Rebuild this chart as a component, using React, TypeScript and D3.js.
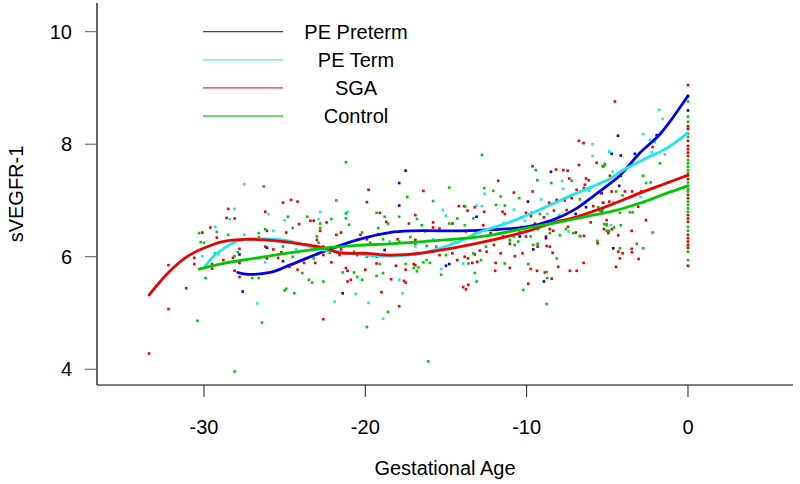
import * as d3 from 'd3'

type Pt = [number, number]

const groups = ['PE Preterm', 'PE Term', 'SGA', 'Control']
const groupColors = ['#0000ee', '#1ee6f0', '#ee0000', '#00c800']
const xTicks = [-30, -20, -10, 0]
const yTicks = [4, 6, 8, 10]

// scatter (gestational age, sVEGFR-1)
const pretermPts: Pt[] = [
  [-26.1, 6.16], [-27.8, 6.04], [-25.1, 5.92], [-27.6, 5.38],
  [-17.5, 7.53], [-17.9, 7.31], [-17.9, 6.91], [-18.8, 6.12], [-15.0, 5.84], [-14.8, 5.87], [-21.4, 5.35],
  [-8.49, 7.51], [-9.92, 6.98], [-13.1, 6.71], [-6.96, 6.76], [-6.32, 6.88], [-5.35, 7.13], [-8.8, 6.33],
  [-10.42, 6.36], [-9.59, 6.13], [-8.93, 5.56],
  [-4.34, 8.15], [-1.94, 8.16], [-4.73, 7.83], [-4.17, 7.8], [-3.29, 7.83], [-4.17, 7.44], [-4.26, 7.26], [-4.63, 6.15],
  [0, 8.6]
]
const termPts: Pt[] = [
  [-27.5, 7.29], [-28.1, 6.85], [-26.0, 6.76], [-28.4, 6.67], [-25.0, 6.65], [-29.3, 6.53], [-27.5, 6.39],
  [-25.7, 6.46], [-30.1, 6.01], [-29.1, 6.04], [-26.2, 5.9], [-26.7, 5.17],
  [-22.8, 6.8], [-21.1, 6.8], [-15.2, 6.83], [-15.0, 6.73], [-22.9, 6.67], [-18.5, 6.27], [-16.9, 6.18],
  [-15.8, 6.31], [-24.3, 6.13], [-17.9, 5.59], [-15.3, 5.78], [-20.6, 5.34], [-17.7, 5.35], [-21.9, 5.2],
  [-19.8, 5.18], [-18.9, 4.9],
  [-5.91, 8.0], [-4.88, 7.87], [-5.91, 7.79], [-7.81, 7.35], [-12.6, 7.12], [-7.73, 7.21], [-6.12, 7.17],
  [-9.09, 7.02], [-13.1, 6.91], [-12.77, 6.9], [-10.79, 6.84], [-10.31, 6.7], [-8.72, 6.76], [-7.98, 6.74],
  [-10.11, 6.64], [-7.4, 6.45], [-6.65, 6.36], [-11.04, 6.27], [-13.93, 5.88],
  [-1.78, 8.61], [-1.57, 8.45], [-2.77, 8.18], [-2.36, 8.08], [-2.05, 8.04], [-2.25, 7.86], [-1.44, 7.82],
  [-3.08, 7.81], [-4.88, 7.86], [-4.67, 7.51], [-5.29, 6.96], [-2.93, 7.06], [-4.79, 6.56]
]
const sgaPts: Pt[] = [
  [-25.1, 6.96], [-28.5, 6.85], [-26.2, 6.8], [-28.6, 6.69], [-28.1, 6.68], [-29.6, 6.52], [-30.1, 6.43],
  [-26.1, 6.46], [-24.9, 6.43], [-29.2, 6.34], [-26.2, 6.18], [-25.7, 6.13], [-27.8, 6.14], [-30.6, 5.98],
  [-28.8, 5.94], [-28.2, 5.98], [-27.8, 5.89], [-26.1, 5.97], [-25.4, 5.98], [-25.2, 6.08], [-30.6, 5.87],
  [-29.5, 5.87], [-29.5, 5.79], [-28.1, 5.75], [-27.8, 5.64], [-32.2, 5.85], [-31.1, 5.44], [-32.2, 5.07],
  [-33.4, 4.28],
  [-19.8, 7.19], [-16.4, 7.17], [-24.6, 7.01], [-24.2, 6.98], [-19.9, 6.97], [-14.2, 6.9], [-19.1, 6.78],
  [-23.4, 6.64], [-23.2, 6.64], [-16.9, 6.74], [-24.1, 6.58], [-22.4, 6.61], [-18.7, 6.62], [-17.3, 6.59],
  [-15.8, 6.61], [-14.6, 6.59], [-22.8, 6.46], [-15.8, 6.52], [-15.4, 6.5], [-21.5, 6.43], [-21.8, 6.39],
  [-23.0, 6.3], [-20.3, 6.39], [-19.2, 6.4], [-19.9, 6.31], [-18.0, 6.31], [-16.9, 6.3], [-14.4, 6.25],
  [-23.4, 6.18], [-22.6, 6.18], [-21.5, 6.13], [-22.6, 6.03], [-23.8, 5.89], [-23.1, 5.89], [-22.1, 5.9],
  [-21.6, 6.03], [-20.5, 6.03], [-19.3, 5.88], [-18.1, 5.84], [-17.0, 5.87], [-16.9, 5.85], [-15.4, 6.03],
  [-14.6, 6.06], [-14.3, 5.94], [-24.7, 5.82], [-24.2, 5.77], [-21.2, 5.8], [-21.1, 5.75], [-20.0, 5.77],
  [-18.4, 5.6], [-17.6, 5.57], [-17.5, 5.54], [-17.5, 5.77], [-21.1, 5.56], [-20.9, 5.59], [-19.0, 5.37],
  [-17.9, 5.12], [-22.6, 4.89],
  [-6.76, 8.06], [-6.47, 8.02], [-9.63, 7.61], [-8.18, 7.55], [-7.73, 7.54], [-7.46, 7.53], [-6.76, 7.63],
  [-5.66, 7.67], [-11.76, 7.35], [-7.36, 7.39], [-6.32, 7.39], [-6.16, 7.36], [-6.39, 7.28], [-10.79, 7.14],
  [-9.63, 7.16], [-6.9, 7.19], [-6.45, 7.22], [-5.39, 7.13], [-8.6, 6.96], [-8.14, 7.01], [-7.64, 7.0],
  [-7.21, 7.04], [-13.87, 6.9], [-13.21, 6.88], [-13.66, 6.82], [-12.63, 6.8], [-11.49, 6.8], [-11.35, 6.76],
  [-10.04, 6.78], [-9.73, 6.72], [-9.69, 6.78], [-8.93, 6.7], [-8.31, 6.82], [-7.52, 6.83], [-5.87, 6.9],
  [-5.25, 6.96], [-6.03, 6.61], [-5.04, 6.65], [-13.76, 6.45], [-12.69, 6.56], [-9.49, 6.59], [-8.97, 6.58],
  [-8.56, 6.49], [-8.35, 6.46], [-6.96, 6.43], [-7.44, 6.53], [-6.45, 6.37], [-8.8, 6.36], [-10.04, 6.36],
  [-10.42, 6.43], [-11.45, 6.36], [-12.23, 6.42], [-13.14, 6.43], [-5.6, 6.24], [-11.04, 6.23], [-12.03, 6.21],
  [-12.9, 6.11], [-13.84, 6.0], [-13.64, 5.97], [-13.21, 6.04], [-9.32, 6.18], [-8.76, 6.19], [-8.56, 6.18],
  [-8.39, 6.07], [-10.25, 6.06], [-10.73, 6.01], [-11.61, 6.06], [-12.48, 6.09], [-13.06, 5.91], [-13.37, 5.89],
  [-11.92, 5.89], [-9.75, 5.78], [-9.36, 5.75], [-8.87, 5.72], [-11.04, 5.8], [-11.95, 5.75], [-8.04, 5.82],
  [-7.32, 5.75], [-6.9, 5.75], [-6.47, 5.89], [-13.62, 5.5], [-13.93, 5.46], [-13.76, 5.42], [-9.9, 5.52],
  [-8.45, 5.61],
  [-4.53, 8.76], [-2.19, 7.95], [-4.84, 7.44], [-4.73, 7.16], [-3.91, 7.16], [-3.47, 7.16], [-2.9, 7.16],
  [-4.88, 6.98], [-3.08, 6.89], [-5.35, 6.8], [-2.6, 6.65], [-5.21, 6.49], [-4.71, 6.49], [-4.94, 6.42],
  [-4.32, 6.38], [-3.49, 6.46], [-4.32, 6.09], [-4.05, 6.06], [-3.49, 6.14], [-3.47, 6.08], [-4.22, 5.97],
  [-3.06, 5.96], [-4.46, 5.82],
  [0, 9.05], [0, 8.32], [0, 8.27], [0, 8.19], [0, 8.06], [0, 7.97], [0, 7.91], [0, 7.85], [0, 7.79],
  [0, 7.38], [0, 7.1], [0, 7.04], [0, 6.74], [0, 6.68], [0, 6.62], [0, 6.39], [0, 6.33], [0, 6.27],
  [0, 6.21], [0, 6.16], [0, 5.84]
]
const controlPts: Pt[] = [
  [-26.3, 7.25], [-24.8, 6.71], [-30.3, 6.42], [-29.2, 6.44], [-28.5, 6.39], [-26.6, 6.42], [-26.2, 6.49],
  [-26.6, 6.35], [-30.2, 6.26], [-30.0, 6.25], [-25.1, 6.18], [-29.3, 6.06], [-28.1, 6.01], [-27.9, 6.08],
  [-29.9, 5.62], [-27.0, 5.62], [-26.6, 5.62], [-25.0, 5.4], [-24.9, 5.43], [-30.4, 4.86], [-26.4, 4.83],
  [-28.1, 3.96],
  [-21.2, 7.68], [-14.8, 7.23], [-17.4, 7.06], [-21.8, 7.0], [-15.8, 6.99], [-21.2, 6.77], [-19.3, 6.78],
  [-18.8, 6.71], [-23.6, 6.71], [-22.1, 6.67], [-21.2, 6.68], [-17.9, 6.71], [-16.8, 6.67], [-14.3, 6.68],
  [-22.8, 6.59], [-21.0, 6.57], [-18.6, 6.59], [-16.5, 6.56], [-14.8, 6.59], [-22.8, 6.51], [-19.2, 6.51],
  [-16.3, 6.45], [-24.5, 6.51], [-23.0, 6.36], [-22.9, 6.25], [-20.2, 6.43], [-19.7, 6.25], [-18.9, 6.31],
  [-17.9, 6.27], [-17.2, 6.35], [-16.9, 6.23], [-16.2, 6.19], [-15.6, 6.18], [-24.5, 6.0], [-22.2, 6.07],
  [-23.2, 5.97], [-20.7, 6.09], [-19.9, 6.0], [-19.3, 6.0], [-19.1, 5.87], [-17.5, 5.87], [-16.7, 5.81],
  [-16.4, 5.9], [-16.2, 5.94], [-16.0, 5.89], [-15.0, 6.03], [-23.9, 5.71], [-21.4, 5.72], [-20.7, 5.72],
  [-19.3, 5.66], [-18.9, 5.71], [-17.0, 5.8], [-16.8, 5.74], [-15.3, 5.68], [-23.5, 5.59], [-23.3, 5.54],
  [-22.6, 5.56], [-20.5, 5.64], [-20.2, 5.59], [-24.4, 5.35], [-18.6, 5.02], [-19.9, 4.75], [-16.1, 4.14],
  [-12.77, 7.81], [-9.44, 7.54], [-5.25, 7.6], [-5.15, 7.63], [-9.34, 7.36], [-8.47, 7.31], [-7.21, 7.35],
  [-12.63, 7.22], [-12.07, 7.17], [-11.61, 7.07], [-10.46, 7.04], [-6.7, 7.02], [-11.9, 6.92], [-11.35, 6.91],
  [-13.81, 6.89], [-13.31, 6.68], [-9.18, 6.76], [-5.56, 6.88], [-5.46, 6.82], [-5.04, 6.58], [-4.88, 6.46],
  [-13.83, 6.56], [-11.41, 6.59], [-10.31, 6.53], [-9.3, 6.49], [-7.56, 6.49], [-7.11, 6.42], [-6.7, 6.37],
  [-7.94, 6.38], [-8.56, 6.42], [-9.75, 6.36], [-10.79, 6.36], [-11.04, 6.3], [-5.62, 6.28], [-10.52, 6.27],
  [-10.74, 6.21], [-12.52, 6.18], [-13.31, 6.06], [-9.59, 6.21], [-9.32, 6.23], [-8.14, 5.97], [-12.83, 5.94],
  [-13.6, 5.88], [-11.35, 5.88], [-9.9, 5.87], [-8.76, 5.73], [-13.21, 5.71], [-13.1, 5.56], [-8.72, 5.62],
  [-10.21, 5.41], [-8.76, 5.16],
  [-5.29, 7.61], [-5.16, 7.65], [-1.74, 7.66], [-5.0, 7.36], [-2.77, 7.44], [-2.6, 7.31], [-2.31, 7.32],
  [-1.22, 7.32], [-4.46, 7.16], [-4.05, 7.09], [-4.63, 6.96], [-5.29, 6.83], [-4.22, 6.78], [-3.6, 6.79],
  [-3.43, 6.79], [-5.19, 6.58], [-5.04, 6.56], [-4.17, 6.56], [-5.04, 6.46], [-4.59, 6.52], [-2.19, 6.43],
  [-3.18, 6.23], [-4.22, 6.15], [-2.77, 6.15],
  [0, 8.84], [0, 8.76], [0, 8.49], [0, 8.4], [0, 8.13], [0, 7.72], [0, 7.66], [0, 7.6], [0, 7.54],
  [0, 7.49], [0, 7.44], [0, 7.32], [0, 7.26], [0, 7.2], [0, 7.16], [0, 6.98], [0, 6.92], [0, 6.86],
  [0, 6.8], [0, 6.53], [0, 6.46], [0, 6.09], [0, 5.94]
]

// smoothed curves
const pretermFit: Pt[] = [
  [-27.9, 5.72], [-27.4, 5.69], [-25.9, 5.72], [-24.7, 5.85], [-22.6, 6.09], [-20.5, 6.3], [-18.5, 6.43],
  [-17.1, 6.46], [-14.1, 6.46], [-12.1, 6.48], [-10.0, 6.53], [-8.4, 6.65], [-6.9, 6.86], [-5.9, 7.07],
  [-4.8, 7.31], [-4.2, 7.45], [-3.0, 7.84], [-1.7, 8.19], [0, 8.86]
]
const termFit: Pt[] = [
  [-30.0, 5.8], [-29.4, 6.01], [-28.6, 6.18], [-27.8, 6.29], [-26.5, 6.32], [-24.9, 6.29], [-22.6, 6.12],
  [-20.5, 6.05], [-18.9, 6.01], [-16.4, 6.07], [-14.1, 6.28], [-13.0, 6.43], [-11.0, 6.62], [-9.0, 6.86],
  [-6.9, 7.13], [-4.8, 7.39], [-4.2, 7.51], [-2.6, 7.75], [-1.3, 7.93], [0, 8.2]
]
const sgaFit: Pt[] = [
  [-33.4, 5.32], [-32.2, 5.72], [-31.0, 6.01], [-29.6, 6.2], [-28.6, 6.28], [-27.4, 6.31], [-26.3, 6.3],
  [-25.1, 6.27], [-22.6, 6.16], [-21.6, 6.07], [-19.9, 6.06], [-18.5, 6.03], [-16.4, 6.07], [-14.1, 6.18],
  [-12.1, 6.3], [-10.0, 6.45], [-8.4, 6.6], [-6.9, 6.71], [-4.8, 6.92], [-3.0, 7.13], [-1.3, 7.31], [0, 7.45]
]
const controlFit: Pt[] = [
  [-30.3, 5.78], [-29.0, 5.87], [-26.9, 5.97], [-24.7, 6.07], [-22.6, 6.15], [-20.5, 6.2], [-18.5, 6.23],
  [-16.4, 6.27], [-14.1, 6.32], [-12.1, 6.39], [-10.0, 6.51], [-7.9, 6.62], [-5.9, 6.74], [-4.8, 6.8],
  [-3.0, 6.95], [-1.3, 7.13], [0, 7.26]
]

const scatter = [pretermPts, termPts, sgaPts, controlPts]
const fits = [pretermFit, termFit, sgaFit, controlFit]

const W = 800
const H = 484
const font = '"Liberation Sans", Arial, sans-serif'

export default function App() {
  const x = d3.scaleLinear().domain([-36.63, 6.51]).range([97, 793])
  const y = d3.scaleLinear().domain([3.72, 10.51]).range([385, 3])
  const line = d3.line<Pt>()
    .x(d => x(d[0]))
    .y(d => y(d[1]))
    .curve(d3.curveCatmullRom)

  const [x0, x1] = x.range()
  const [yb, yt] = y.range()
  const ps = 2.6

  return (
    <svg width={W} height={H} style={{ position: 'absolute', left: 0, top: 0, background: '#fff' }}
      fontFamily={font}>
      <rect width={W} height={H} fill="#fff" />

      {/* points */}
      {scatter.map((pts, gi) => (
        <g key={gi} fill={groupColors[gi]}>
          {pts.map((p, i) => (
            <rect key={i} x={x(p[0]) - ps / 2} y={y(p[1]) - ps / 2} width={ps} height={ps} />
          ))}
        </g>
      ))}

      {/* smoothed lines */}
      {fits.map((f, gi) => (
        <path key={gi} d={line(f) || ''} fill="none" stroke={groupColors[gi]} strokeWidth={2.8}
          strokeLinejoin="round" strokeLinecap="round" />
      ))}

      {/* axes */}
      <line x1={x0} x2={x0} y1={yt} y2={yb} stroke="#000" strokeWidth={1.2} />
      <line x1={x0} x2={x1} y1={yb} y2={yb} stroke="#000" strokeWidth={1.2} />
      {yTicks.map(t => (
        <g key={t}>
          <line x1={x0 - 12} x2={x0} y1={y(t)} y2={y(t)} stroke="#555" />
          <text x={72} y={y(t)} textAnchor="end" dominantBaseline="central" fontSize={20}>{t}</text>
        </g>
      ))}
      {xTicks.map(t => (
        <g key={t}>
          <line x1={x(t)} x2={x(t)} y1={yb} y2={yb + 12} stroke="#222" />
          <text x={x(t)} y={427} textAnchor="middle" dominantBaseline="central" fontSize={20}>{t}</text>
        </g>
      ))}
      <text x={445} y={468} textAnchor="middle" dominantBaseline="central" fontSize={20}>Gestational Age</text>
      <text transform={`translate(16,${(yt + yb) / 2}) rotate(-90)`} textAnchor="middle"
        dominantBaseline="central" fontSize={20}>sVEGFR-1</text>

      {/* legend */}
      {groups.map((g, i) => {
        const ly = 31.7 + i * 28.1
        return (
          <g key={g}>
            <line x1={203} x2={283} y1={ly} y2={ly} stroke={groupColors[i]} strokeWidth={1.3} opacity={0.8} />
            <text x={356} y={ly} textAnchor="middle" dominantBaseline="central" fontSize={20}>{g}</text>
          </g>
        )
      })}
    </svg>
  )
}
